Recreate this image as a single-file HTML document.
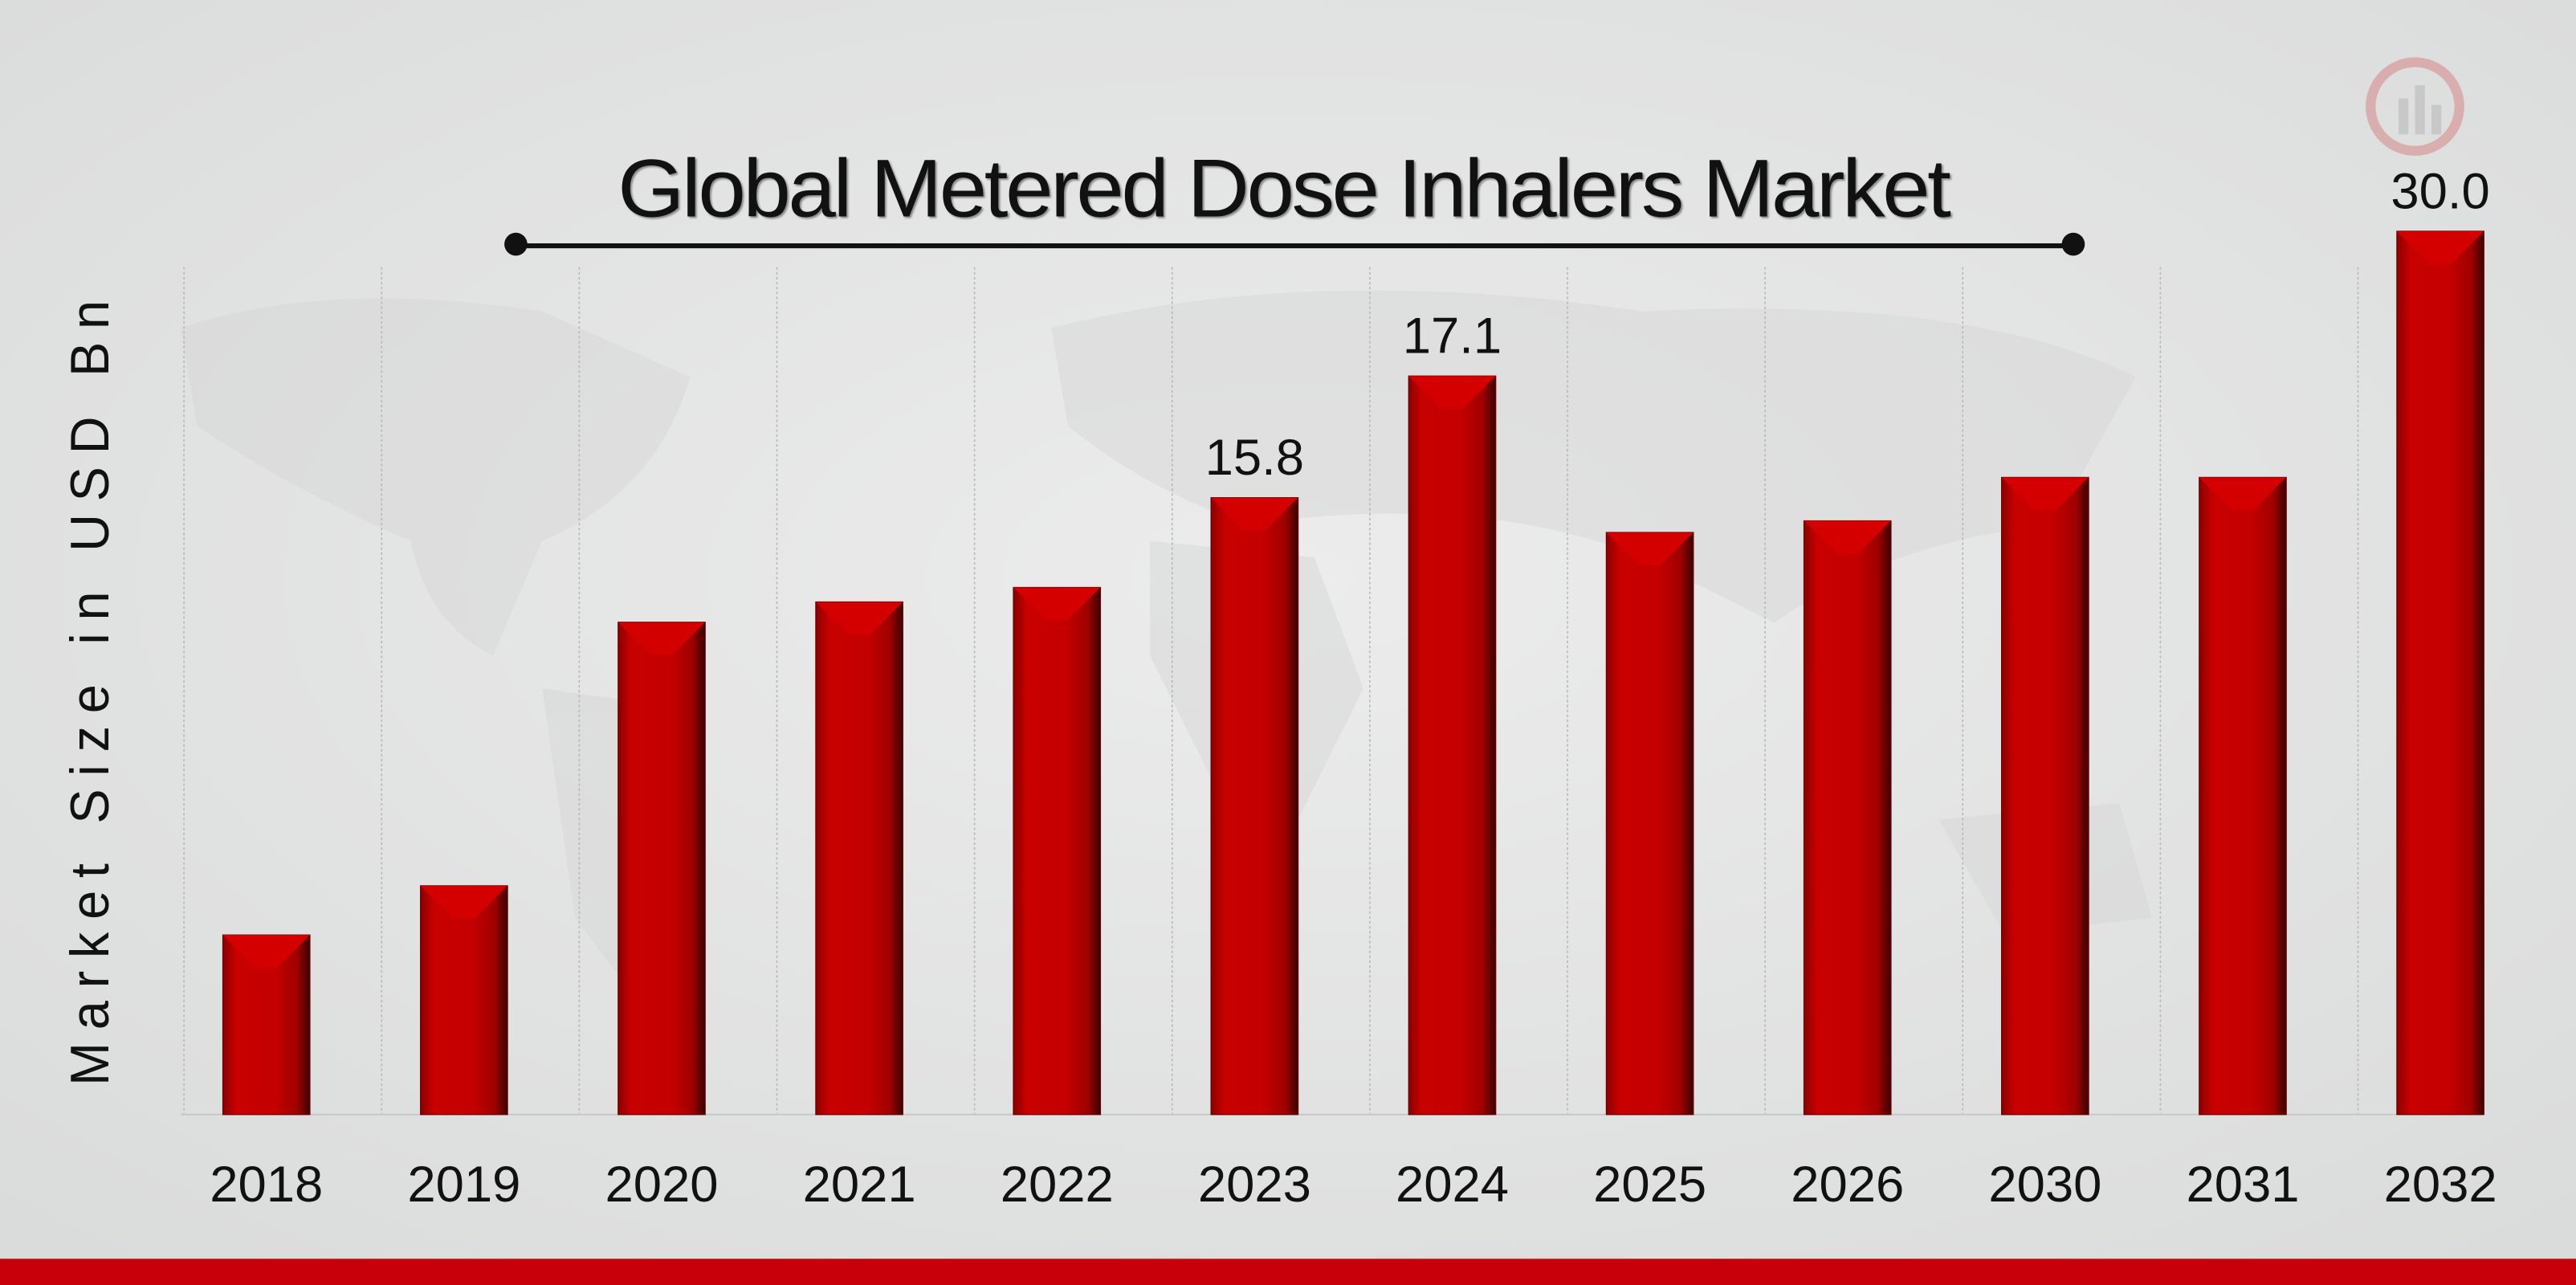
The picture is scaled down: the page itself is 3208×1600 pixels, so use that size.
<!DOCTYPE html>
<html><head><meta charset="utf-8"><style>
html,body{margin:0;padding:0;width:3208px;height:1600px;overflow:hidden;background:#e4e4e4}
svg{display:block}
text{font-family:"Liberation Sans",sans-serif}
</style></head><body>
<svg id="chart" width="3208" height="1600" viewBox="0 0 1568 784" preserveAspectRatio="none" xmlns="http://www.w3.org/2000/svg">
<defs>
<radialGradient id="bg" cx="0.5" cy="0.45" r="0.75"><stop offset="0" stop-color="#ececec"/><stop offset="1" stop-color="#d9dada"/></radialGradient>
<linearGradient id="barg" x1="0" x2="1" y1="0" y2="0"><stop offset="0" stop-color="#8a0000"/><stop offset="0.15" stop-color="#c80000"/><stop offset="0.6" stop-color="#c40000"/><stop offset="0.85" stop-color="#a00000"/><stop offset="1" stop-color="#3a0000"/></linearGradient>
</defs>
<rect x="0" y="0" width="1568" height="784" fill="url(#bg)"/>
<g fill="#d4d5d5" opacity="0.45">
<path d="M110 200 Q200 170 330 190 L420 230 Q400 300 330 330 L300 400 Q260 380 250 330 Q180 300 120 260 Z"/>
<path d="M330 420 L400 430 L420 500 L380 600 L350 560 Z"/>
<path d="M640 200 Q800 160 1000 190 Q1200 180 1300 230 L1250 320 Q1150 330 1080 380 L1000 340 Q900 300 760 320 Q700 300 650 260 Z"/>
<path d="M700 330 L800 340 L830 420 L780 520 L740 480 L700 400 Z"/>
<path d="M1180 500 L1290 490 L1310 560 L1220 570 Z"/>
</g>
<g id="grid"></g>
<line x1="110" y1="680" x2="1512" y2="680" stroke="#c8c8c8" stroke-width="1"/>
<g id="bars"></g>
<g id="xlabels"></g>
<g id="vlabels"></g>
<text x="781" y="132" text-anchor="middle" font-size="50" fill="#111" style="text-shadow:2px 2px 2px #888" letter-spacing="-1.6" textLength="810" lengthAdjust="spacingAndGlyphs">Global Metered Dose Inhalers Market</text>
<line x1="314" y1="150" x2="1262" y2="150" stroke="#111" stroke-width="3"/>
<circle cx="314" cy="149" r="7" fill="#111"/>
<circle cx="1262" cy="149" r="7" fill="#111"/>
<text transform="translate(66,419) rotate(-90)" text-anchor="middle" font-size="33" fill="#111" letter-spacing="8" textLength="487" lengthAdjust="spacingAndGlyphs">Market Size in USD Bn</text>
<g opacity="0.3">
<circle cx="1470" cy="65" r="27" fill="none" stroke="#d04040" stroke-width="6"/>
<rect x="1460" y="60" width="6" height="22" fill="#999"/><rect x="1470" y="52" width="6" height="30" fill="#999"/><rect x="1480" y="64" width="6" height="18" fill="#999"/>
</g>
<rect x="0" y="768" width="1568" height="16" fill="#c8000a"/>
</svg>
<script>
const categories=["2018","2019","2020","2021","2022","2023","2024","2025","2026","2030","2031","2032"];
const values=[6.2,7.9,17.0,17.7,18.2,21.3,25.5,20.1,20.5,22.0,22.0,30.5];
const valueLabels=["","","","","","15.8","17.1","","","","","30.0"];
const NS="http://www.w3.org/2000/svg";
const x0=102,step=120.3,base=680,pxPer=17.67,bw=53;
function xc(i){return x0+step*(i+0.5);}
function yv(v){return base-v*pxPer;}
function mk(t,a,p){const e=document.createElementNS(NS,t);for(const k in a)e.setAttribute(k,a[k]);p.appendChild(e);return e;}
const grid=document.getElementById('grid'),bars=document.getElementById('bars'),xl=document.getElementById('xlabels'),vl=document.getElementById('vlabels');
for(let i=0;i<=categories.length;i++){
  const gx=x0+10+step*i;
  if(gx>1515)break;
  const l=mk('line',{x1:gx,y1:163,x2:gx,y2:680,stroke:'#b8b8b8','stroke-width':0.8,'stroke-dasharray':'1.5,1.5'},grid);
  
  
}
categories.forEach((c,i)=>{
  const cx=xc(i),top=yv(values[i]),h=base-top;
  const g=mk('g',{},bars);
  
  
  mk('rect',{x:cx-bw/2,y:top,width:bw,height:h,fill:'url(#barg)',stroke:'#600',"stroke-width":0.6},g);
  const d=Math.min(20,h/2);
  mk('polygon',{points:`${cx-bw/2},${top} ${cx+bw/2},${top} ${cx+bw/2-d},${top+d} ${cx-bw/2+d},${top+d}`,fill:'#d40000'},g);
  const t=mk('text',{x:cx,y:733,'text-anchor':'middle','font-size':31,fill:'#111'},xl);
  t.textContent=c;
  
  
  if(valueLabels[i]){
    const v=mk('text',{x:cx,y:top-14,'text-anchor':'middle','font-size':31,fill:'#111'},vl);
    v.textContent=valueLabels[i];
    
    
  }
});
</script>
</body></html>
